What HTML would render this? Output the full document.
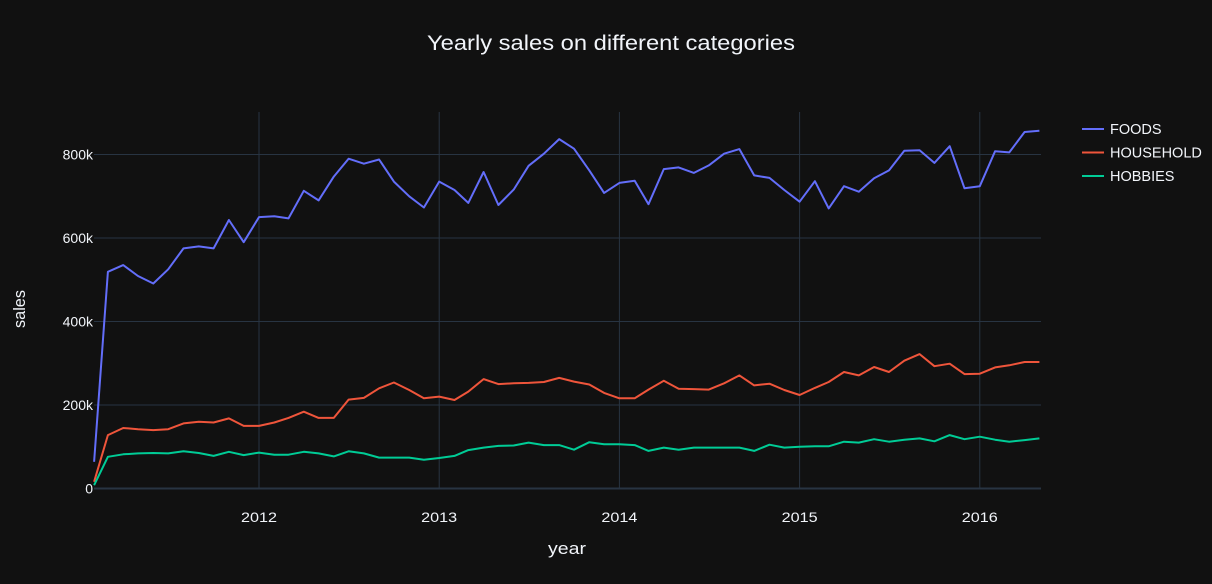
<!DOCTYPE html>
<html><head><meta charset="utf-8"><style>
html,body{margin:0;padding:0;background:#111111;}
svg{display:block;font-family:"Liberation Sans",Arial,sans-serif;}
</style></head><body>
<svg id="chart" width="1212" height="584">
<rect width="1212" height="584" fill="#111111"/>
<g id="grid"></g>
<g id="lines"></g>
<g id="ticks"></g>
<text x="611" y="50" text-anchor="middle" fill="#f2f5fa" font-size="21" textLength="368" lengthAdjust="spacingAndGlyphs">Yearly sales on different categories</text>
<text x="567" y="554" text-anchor="middle" fill="#f2f5fa" font-size="17" textLength="38" lengthAdjust="spacingAndGlyphs">year</text>
<text x="25" y="309" text-anchor="middle" fill="#f2f5fa" font-size="17" textLength="38" lengthAdjust="spacingAndGlyphs" transform="rotate(-90 25 309)">sales</text>
<g id="legend"></g>
</svg>
<script>
const months = ["2011-01","2011-02","2011-03","2011-04","2011-05","2011-06","2011-07","2011-08","2011-09","2011-10","2011-11","2011-12",
"2012-01","2012-02","2012-03","2012-04","2012-05","2012-06","2012-07","2012-08","2012-09","2012-10","2012-11","2012-12",
"2013-01","2013-02","2013-03","2013-04","2013-05","2013-06","2013-07","2013-08","2013-09","2013-10","2013-11","2013-12",
"2014-01","2014-02","2014-03","2014-04","2014-05","2014-06","2014-07","2014-08","2014-09","2014-10","2014-11","2014-12",
"2015-01","2015-02","2015-03","2015-04","2015-05","2015-06","2015-07","2015-08","2015-09","2015-10","2015-11","2015-12",
"2016-01","2016-02","2016-03","2016-04"];
const foods = [64,519,535,509,491,525,575,580,575,643,590,650,652,647,713,690,747,790,778,788,735,700,673,735,
715,684,758,679,716,773,802,837,814,762,708,732,737,681,765,769,756,774,802,813,
750,744,715,687,736,671,724,711,743,762,809,810,780,820,719,724,808,805,854,857];
const household = [16,128,145,142,140,142,156,160,158,168,150,150,158,169,184,169,169,213,217,240,254,236,216,220,
212,232,262,250,252,253,255,265,256,249,229,216,216,237,258,239,238,237,252,271,
247,251,236,224,241,255,279,271,291,279,306,322,293,299,274,275,290,295,303,303];
const hobbies = [8,76,82,84,85,84,89,85,78,88,80,86,81,81,88,84,77,89,84,74,74,74,69,73,
78,92,98,102,103,110,104,104,93,111,106,106,104,90,98,93,98,98,98,98,
90,105,98,100,101,101,112,110,118,112,117,120,113,128,118,124,117,112,116,120];
const seriesNames = ["FOODS","HOUSEHOLD","HOBBIES"];
const seriesColors = ["#636efa","#EF553B","#00cc96"];
const yTicks = [0,200,400,600,800];
const yTickLabels = ["0","200k","400k","600k","800k"];
const xTicks = [2012,2013,2014,2015,2016];

const NS="http://www.w3.org/2000/svg";
function mk(t,a,p){const e=document.createElementNS(NS,t);for(const k in a)e.setAttribute(k,a[k]);p.appendChild(e);return e;}
const daysIn=[31,28,31,30,31,30,31,31,30,31,30,31];
function monthEndFrac(s){const y=+s.slice(0,4),m=+s.slice(5,7);const leap=(y%4===0);let c=0;for(let i=0;i<m;i++){c+=daysIn[i]+(i===1&&leap?1:0);}return y+c/(leap?366:365);}
function xs(v){return 259+(v-2012)*180.2;}
function ys(v){return 488.5-v*(334/800);}
const grid=document.getElementById('grid'),ticks=document.getElementById('ticks'),lines=document.getElementById('lines'),legend=document.getElementById('legend');
xTicks.forEach(t=>{
  const l=mk('line',{x1:xs(t),x2:xs(t),y1:112,y2:489,stroke:'#283442','stroke-width':1},grid);
  
  
  const tx=mk('text',{x:xs(t),y:522,'text-anchor':'middle',fill:'#f2f5fa','font-size':14,textLength:36,lengthAdjust:'spacingAndGlyphs'},ticks);
  tx.textContent=t;
  
  
});
yTicks.forEach((t,i)=>{
  const l=mk('line',{x1:94,x2:1041,y1:ys(t),y2:ys(t),stroke:'#283442','stroke-width':t===0?2:1},grid);
  
  
  const tx=mk('text',{x:93,y:ys(t)+5,'text-anchor':'end',fill:'#f2f5fa','font-size':14},ticks);
  tx.textContent=yTickLabels[i];
  
  
});
[foods,household,hobbies].forEach((arr,si)=>{
  const pts=arr.map((v,i)=>xs(monthEndFrac(months[i])).toFixed(1)+','+ys(v).toFixed(1)).join(' ');
  const pl=mk('polyline',{points:pts,fill:'none',stroke:seriesColors[si],'stroke-width':2,'stroke-linejoin':'round'},lines);
  
  
  const y=129+si*23.5;
  const g=mk('g',{},legend);
  
  
  mk('line',{x1:1082,x2:1104,y1:y,y2:y,stroke:seriesColors[si],'stroke-width':2},g);
  const tx=mk('text',{x:1110,y:y+5,fill:'#f2f5fa','font-size':14.5},g);
  tx.textContent=seriesNames[si];
});
</script>
</body></html>
